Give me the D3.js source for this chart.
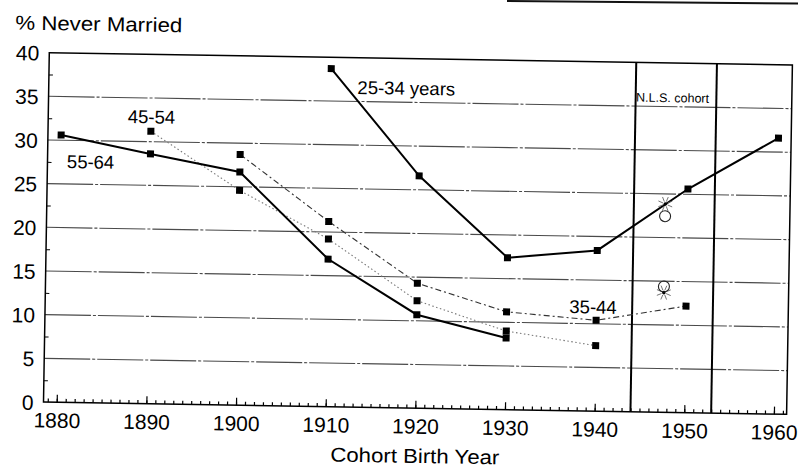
<!DOCTYPE html>
<html>
<head>
<meta charset="utf-8">
<script src="https://cdn.jsdelivr.net/npm/d3@7"></script>
<style>
    body { margin: 0; background: #fff; }
    svg { display: block; font-family: "Liberation Sans", Arial, sans-serif; }
</style>
</head>
<body>
<div id="chart"></div>
<script>
// Data: % never married by birth cohort, one array per age group
const years = [1880, 1890, 1900, 1910, 1920, 1930, 1940, 1950, 1960]
const age2534 = [null, null, null, 38.7, 26.6, 17.4, 18.4, 25.6, 31.6]
const age3544 = [null, null, 28.7, 21.2, 14.3, 11.2, 10.4, 12.2, null]
const age4554 = [null, 31.2, 24.6, 19.2, 12.3, 9.0, 7.5, null, null]
const age5564 = [30.6, 28.6, 26.7, 16.9, 10.7, 8.2, null, null, null]

const seriesNames = ['25-34 years', '35-44', '45-54', '55-64']

// N.L.S. cohort window and the two hand-drawn marks inside it
const nlsBounds = [1944, 1953]
const nlsYear = 1947.5
const nlsStars = [23.85, 13.7]
const nlsCircles = [22.45, 14.4]

const yTicks = [0, 5, 10, 15, 20, 25, 30, 35, 40]
const xTicks = [1880, 1890, 1900, 1910, 1920, 1930, 1940, 1950, 1960]

function draw(el) {
    const dimensions = { width: 798, height: 470 }
    // plot frame (before the small tilt of the scanned page)
    const frame = { left: 43.5, right: 786.7, bottom: 402 }

    const x = d3.scaleLinear().domain([1880, 1960]).range([56.7, 774])
    const y = d3.scaleLinear().domain([0, 40]).range([frame.bottom, frame.bottom - 349.4])

    const svg = d3.select(el)
        .append('svg')
        .attr('width', dimensions.width)
        .attr('height', dimensions.height)

    // edge of the page above, caught by the scanner
    svg.append('path')
        .attr('d', 'M507,1 L798,3.6')
        .attr('stroke', '#111')
        .attr('stroke-width', 2)
        .attr('fill', 'none')

    // whole figure is tilted a little, like the scan
    const g = svg.append('g')
        .attr('transform', `rotate(0.95, ${frame.left}, ${frame.bottom})`)

    // gridlines
    g.append('g')
        .selectAll('line')
        .data(yTicks.filter(d => d > 0 && d < 40))
        .join('line')
        .attr('x1', frame.left)
        .attr('x2', frame.right)
        .attr('y1', y)
        .attr('y2', y)
        .attr('stroke', '#4a4a4a')
        .attr('stroke-width', 1.1)
        .attr('stroke-dasharray', '46,2,3,2')

    // N.L.S. cohort lines
    g.append('g')
        .selectAll('line')
        .data(nlsBounds)
        .join('line')
        .attr('x1', x)
        .attr('x2', x)
        .attr('y1', y(40))
        .attr('y2', y(0))
        .attr('stroke', '#000')
        .attr('stroke-width', 2)

    g.append('text')
        .attr('x', x(1944.05))
        .attr('y', y(35.52))
        .attr('font-size', 12.5)
        .text('N.L.S. cohort')

    // frame
    g.append('rect')
        .attr('x', frame.left)
        .attr('y', y(40))
        .attr('width', frame.right - frame.left)
        .attr('height', y(0) - y(40))
        .attr('fill', 'none')
        .attr('stroke', '#000')
        .attr('stroke-width', 1.5)

    // bottom axis: a small tick each year, taller each decade, all pointing in
    const minorX = g.append('g')
        .attr('transform', `translate(0,${frame.bottom})`)
        .call(d3.axisBottom(x).tickValues(d3.range(1879, 1962)).tickSize(-3.5).tickFormat(''))
    minorX.select('.domain').remove()

    const xAxis = g.append('g')
        .attr('transform', `translate(0,${frame.bottom})`)
        .call(d3.axisBottom(x).tickValues(xTicks).tickSize(-7.5).tickFormat(d3.format('d')))
    xAxis.select('.domain').remove()
    xAxis.selectAll('text')
        .attr('y', 25.5)
        .attr('dy', null)
        .attr('font-size', 21)
        .attr('font-family', null)
        .attr('fill', '#000')
    g.selectAll('.tick line').attr('stroke', '#000').attr('stroke-width', 1.2)

    // left axis
    const minorY = g.append('g')
        .attr('transform', `translate(${frame.left},0)`)
        .call(d3.axisLeft(y).tickValues(d3.range(2.5, 40, 5)).tickSize(-4).tickFormat(''))
    minorY.select('.domain').remove()

    const yAxis = g.append('g')
        .attr('transform', `translate(${frame.left},0)`)
        .call(d3.axisLeft(y).tickValues(yTicks).tickSize(0).tickPadding(10))
    yAxis.select('.domain').remove()
    yAxis.selectAll('text')
        .attr('font-size', 21)
        .attr('font-family', null)
        .attr('dy', '0.36em')
        .attr('fill', '#000')

    // series
    const series = [
        { name: seriesNames[0], values: age2534, color: '#000', width: 2, dash: null },
        { name: seriesNames[1], values: age3544, color: '#333', width: 1.1, dash: '6,3,2,3' },
        { name: seriesNames[2], values: age4554, color: '#777', width: 1.1, dash: '1.5,2.5' },
        { name: seriesNames[3], values: age5564, color: '#000', width: 2, dash: null }
    ].map(s => ({ ...s, points: years.map((yr, i) => ({ year: yr, v: s.values[i] })) }))

    const line = d3.line()
        .defined(d => d.v != null)
        .x(d => x(d.year))
        .y(d => y(d.v))

    g.append('g')
        .selectAll('path')
        .data(series)
        .join('path')
        .attr('d', d => line(d.points))
        .attr('fill', 'none')
        .attr('stroke', d => d.color)
        .attr('stroke-width', d => d.width)
        .attr('stroke-dasharray', d => d.dash)

    const box = 7
    g.append('g')
        .selectAll('rect')
        .data(series.flatMap(s => s.points.filter(p => p.v != null)))
        .join('rect')
        .attr('x', d => x(d.year) - box / 2)
        .attr('y', d => y(d.v) - box / 2)
        .attr('width', box)
        .attr('height', box)
        .attr('fill', '#000')

    // series labels (year / value where each label starts)
    const labelSpots = [[1912.96, 35.86], [1937.0, 11.18], [1887.4, 32.1], [1880.7, 26.83]]
    g.append('g')
        .selectAll('text')
        .data(series)
        .join('text')
        .attr('x', (d, i) => x(labelSpots[i][0]))
        .attr('y', (d, i) => y(labelSpots[i][1]))
        .attr('font-size', 18.5)
        .text(d => d.name)

    // hand-drawn marks: a starburst and an open circle at each spot
    const rays = d3.range(8).map(i => i * Math.PI / 4 + Math.PI / 8)
    const starG = g.append('g')
        .selectAll('g')
        .data(nlsStars)
        .join('g')
        .attr('transform', d => `translate(${x(nlsYear)},${y(d)})`)
    starG.selectAll('line')
        .data(rays)
        .join('line')
        .attr('x1', a => Math.cos(a) * 2.5)
        .attr('y1', a => Math.sin(a) * 2.5)
        .attr('x2', a => Math.cos(a) * 7.5)
        .attr('y2', a => Math.sin(a) * 7.5)
        .attr('stroke', '#666')
        .attr('stroke-width', 0.9)
    starG.append('circle')
        .attr('r', 1.8)
        .attr('fill', '#000')

    g.append('g')
        .selectAll('circle')
        .data(nlsCircles)
        .join('circle')
        .attr('cx', x(nlsYear))
        .attr('cy', y)
        .attr('r', 5.5)
        .attr('fill', 'none')
        .attr('stroke', '#222')
        .attr('stroke-width', 1.1)

    // titles
    g.append('text')
        .attr('x', 9)
        .attr('y', 30)
        .attr('font-size', 20)
        .attr('textLength', 167)
        .attr('lengthAdjust', 'spacingAndGlyphs')
        .text('% Never Married')

    g.append('text')
        .attr('x', 415.7 - 84.5)
        .attr('y', 456.8)
        .attr('font-size', 20)
        .attr('textLength', 169)
        .attr('lengthAdjust', 'spacingAndGlyphs')
        .text('Cohort Birth Year')
}

draw('#chart')
</script>
</body>
</html>
